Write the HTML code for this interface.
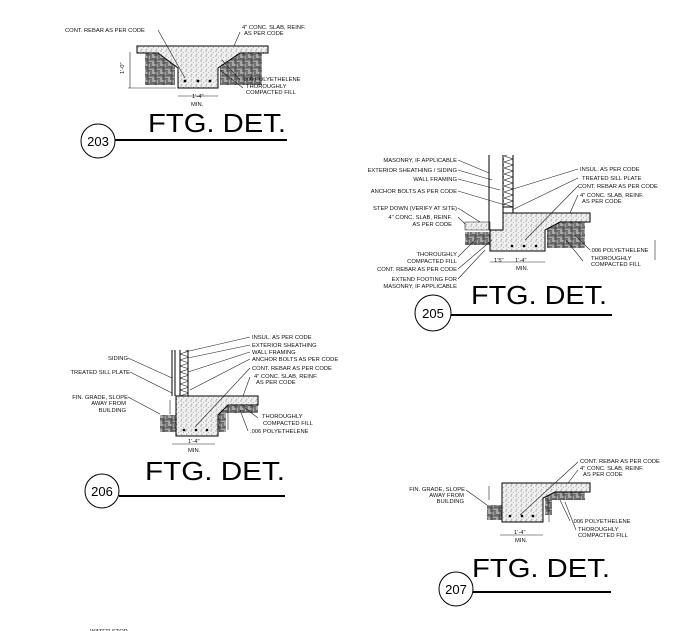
<!DOCTYPE html>
<html><head><meta charset="utf-8"><style>
html,body{margin:0;padding:0;background:#fff;width:700px;height:631px;overflow:hidden}
svg{display:block}
.t{font-family:"Liberation Sans",sans-serif;font-size:5.8px;fill:#111}
.r{text-anchor:end}
.h{font-family:"Liberation Sans",sans-serif;font-size:26px;fill:#000}
.n{font-family:"Liberation Sans",sans-serif;font-size:13px;fill:#000;text-anchor:middle}
.l{stroke:#222;stroke-width:0.6;fill:none}
.k{stroke:#000;stroke-width:1;fill:none}
.cc{stroke:#000;stroke-width:1;fill:url(#c)}
.ccl{stroke:#222;stroke-width:0.6;fill:url(#c)}
</style></head><body>
<svg width="700" height="631" viewBox="0 0 700 631" xmlns="http://www.w3.org/2000/svg">
<defs>
<pattern id="c" width="5" height="5" patternUnits="userSpaceOnUse">
<rect width="5" height="5" fill="#f0f0f0"/>
<circle cx="1" cy="1" r="0.5" fill="#444"/><circle cx="3.6" cy="2.4" r="0.4" fill="#666"/><circle cx="1.8" cy="4.2" r="0.45" fill="#555"/>
</pattern>
<pattern id="f" width="8" height="8" patternUnits="userSpaceOnUse">
<rect width="8" height="8" fill="#d8d8d8"/>
<path d="M0 1H4M0 2.3H4M0 3.6H4M5 0V4M6.3 0V4M7.6 0V4M1 4V8M2.3 4V8M3.6 4V8M4 5H8M4 6.3H8M4 7.6H8M0 4H8M4 0V8" stroke="#222" stroke-width="0.55"/>
</pattern>
<pattern id="z" width="9" height="6" patternUnits="userSpaceOnUse">
<path d="M0 0L9 3L0 6" stroke="#333" stroke-width="0.6" fill="none"/>
</pattern>
</defs>

<!-- 203 -->
<rect x="145" y="53" width="30" height="32" fill="url(#f)"/>
<rect x="220" y="53" width="42" height="32" fill="url(#f)"/>
<path d="M137 46H268V53H240L218 68V88H178V68L158 53H137Z" class="cc"/>
<circle cx="185" cy="81" r="1.4"/><circle cx="198" cy="81" r="1.4"/><circle cx="210" cy="81" r="1.4"/>
<path class="l" d="M130 52V88M128 88H176M178 96H218M158 30L185 78M240 32L234 46M222 60L240 80M220 70L243 88"/>
<text class="t" x="65" y="32">CONT. REBAR AS PER CODE</text>
<text class="t" x="242" y="29">4" CONC. SLAB, REINF.</text><text class="t" x="244" y="35">AS PER CODE</text>
<text class="t" x="242" y="81">.006 POLYETHELENE</text>
<text class="t" x="246" y="88">THOROUGHLY</text><text class="t" x="246" y="94">COMPACTED FILL</text>
<text class="t" x="192" y="98">1'-4"</text><text class="t" x="191" y="106">MIN.</text>
<text class="t" x="124" y="74" transform="rotate(-90 124 74)">1'-0"</text>
<text class="h" x="148" y="132" textLength="138" lengthAdjust="spacingAndGlyphs">FTG. DET.</text>
<circle cx="98" cy="141" r="17" class="k" stroke-width="1.3"/>
<text class="n" x="98" y="146">203</text>
<path d="M115 140H287" stroke="#000" stroke-width="2"/>

<!-- 205 -->
<rect x="465" y="232" width="25" height="13" fill="url(#f)"/>
<rect x="547" y="222" width="38" height="26" fill="url(#f)"/>
<path d="M465 222H490V230H465Z" class="ccl"/>
<path d="M503 213H590V222H560L545 230V251H490V230H503Z" class="cc"/>
<rect x="503" y="155" width="10" height="52" fill="url(#z)"/>
<path class="k" d="M489 155V230M503 155V213M513 155V207M503 207H513V213"/>
<circle cx="512" cy="246" r="1.3"/><circle cx="524" cy="246" r="1.3"/><circle cx="536" cy="246" r="1.3"/>
<path class="l" d="M458 160L489 173M458 170L492 180M458 179L500 190M458 191L505 205M458 208L480 222M458 217L465 224M458 257L475 240M458 269L492 240M458 279L485 250M578 169L510 190M578 178L512 210M578 186L525 240M578 195L570 213M590 250L575 235M583 261L566 240M490 262H545M655 240V260"/>
<text class="t r" x="457" y="162">MASONRY, IF APPLICABLE</text>
<text class="t r" x="457" y="172">EXTERIOR SHEATHING / SIDING</text>
<text class="t r" x="457" y="181">WALL FRAMING</text>
<text class="t r" x="457" y="193">ANCHOR BOLTS AS PER CODE</text>
<text class="t r" x="457" y="210">STEP DOWN  (VERIFY AT SITE)</text>
<text class="t r" x="452" y="219">4" CONC. SLAB, REINF.</text>
<text class="t r" x="452" y="226">AS PER CODE</text>
<text class="t r" x="457" y="256">THOROUGHLY</text>
<text class="t r" x="457" y="263">COMPACTED FILL</text>
<text class="t r" x="457" y="271">CONT. REBAR AS PER CODE</text>
<text class="t r" x="457" y="281">EXTEND FOOTING FOR</text>
<text class="t r" x="457" y="288">MASONRY, IF APPLICABLE</text>
<text class="t" x="580" y="171">INSUL. AS PER CODE</text>
<text class="t" x="582" y="180">TREATED SILL PLATE</text>
<text class="t" x="578" y="188">CONT. REBAR AS PER CODE</text>
<text class="t" x="580" y="197">4" CONC. SLAB, REINF.</text>
<text class="t" x="582" y="203">AS PER CODE</text>
<text class="t" x="590" y="252">.006 POLYETHELENE</text>
<text class="t" x="591" y="260">THOROUGHLY</text>
<text class="t" x="591" y="266">COMPACTED FILL</text>
<text class="t" x="494" y="262">1'5"</text><text class="t" x="515" y="262">1'-4"</text><text class="t" x="516" y="270">MIN.</text>
<text class="h" x="471" y="304" textLength="136" lengthAdjust="spacingAndGlyphs">FTG. DET.</text>
<circle cx="433" cy="313" r="18" class="k" stroke-width="1.3"/>
<text class="n" x="433" y="318">205</text>
<path d="M451 315H612" stroke="#000" stroke-width="2"/>

<!-- 206 -->
<rect x="160" y="415" width="16" height="17" fill="url(#f)"/>
<rect x="225" y="405" width="33" height="8" fill="url(#f)"/>
<rect x="218" y="410" width="8" height="22" fill="url(#f)"/>
<path d="M176 396H258V405H228L218 415V436H176Z" class="cc"/>
<rect x="180" y="350" width="8" height="46" fill="url(#z)"/>
<path class="k" d="M172 350V396M175 350V396M180 350V396M188 350V396"/>
<circle cx="184" cy="430" r="1.3"/><circle cx="196" cy="430" r="1.3"/><circle cx="207" cy="430" r="1.3"/>
<path class="l" d="M250 337L185 352M250 345L188 358M250 352L188 372M250 359L190 390M250 368L195 427M250 377L243 396M128 358L172 378M130 372L172 393M128 397L160 414M258 418L245 408M248 431L240 410M172 444H215M170 400V414M228 405V430"/>
<text class="t" x="252" y="339">INSUL. AS PER CODE</text>
<text class="t" x="252" y="347">EXTERIOR SHEATHING</text>
<text class="t" x="252" y="354">WALL FRAMING</text>
<text class="t" x="252" y="361">ANCHOR BOLTS AS PER CODE</text>
<text class="t" x="252" y="370">CONT. REBAR AS PER CODE</text>
<text class="t" x="254" y="378">4" CONC. SLAB, REINF.</text>
<text class="t" x="256" y="384">AS PER CODE</text>
<text class="t r" x="128" y="360">SIDING</text>
<text class="t r" x="130" y="374">TREATED SILL PLATE</text>
<text class="t r" x="128" y="399">FIN. GRADE, SLOPE</text>
<text class="t r" x="126" y="405">AWAY FROM</text>
<text class="t r" x="126" y="412">BUILDING</text>
<text class="t" x="262" y="418">THOROUGHLY</text>
<text class="t" x="263" y="425">COMPACTED FILL</text>
<text class="t" x="250" y="433">.006 POLYETHELENE</text>
<text class="t" x="188" y="443">1'-4"</text><text class="t" x="188" y="452">MIN.</text>
<text class="h" x="145" y="480" textLength="140" lengthAdjust="spacingAndGlyphs">FTG. DET.</text>
<circle cx="102" cy="491" r="17" class="k" stroke-width="1.3"/>
<text class="n" x="102" y="496">206</text>
<path d="M119 496H285" stroke="#000" stroke-width="2"/>

<!-- 207 -->
<rect x="487" y="505" width="15" height="15" fill="url(#f)"/>
<rect x="550" y="492" width="35" height="8" fill="url(#f)"/>
<rect x="545" y="495" width="7" height="20" fill="url(#f)"/>
<path d="M502 483H590V492H555L543 498V522H502Z" class="cc"/>
<circle cx="510" cy="516" r="1.3"/><circle cx="522" cy="516" r="1.3"/><circle cx="533" cy="516" r="1.3"/>
<path class="l" d="M578 462L520 515M578 470L568 483M466 490L487 505M570 521L560 500M576 530L565 502M500 535H543M489 486V500M549 500V522"/>
<text class="t" x="580" y="463">CONT. REBAR AS PER CODE</text>
<text class="t" x="580" y="470">4" CONC. SLAB, REINF.</text>
<text class="t" x="583" y="476">AS PER CODE</text>
<text class="t r" x="465" y="491">FIN. GRADE, SLOPE</text>
<text class="t r" x="464" y="497">AWAY FROM</text>
<text class="t r" x="464" y="503">BUILDING</text>
<text class="t" x="572" y="523">.006 POLYETHELENE</text>
<text class="t" x="578" y="531">THOROUGHLY</text>
<text class="t" x="578" y="537">COMPACTED FILL</text>
<text class="t" x="514" y="534">1'-4"</text><text class="t" x="515" y="542">MIN.</text>
<text class="h" x="472" y="577" textLength="138" lengthAdjust="spacingAndGlyphs">FTG. DET.</text>
<circle cx="456" cy="589" r="17" class="k" stroke-width="1.3"/>
<text class="n" x="456" y="594">207</text>
<path d="M473 592H611" stroke="#000" stroke-width="2"/>

<text class="t" x="90" y="633">WATER STOP</text>
</svg>
</body></html>
